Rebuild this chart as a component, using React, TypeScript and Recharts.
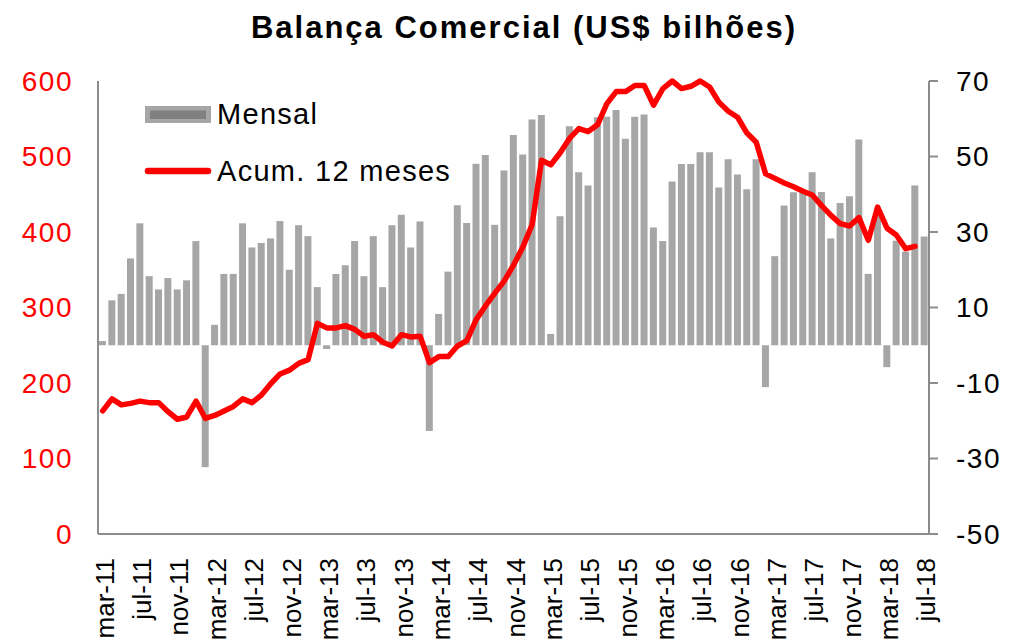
import React from 'react';
import { ComposedChart, Bar, Line, XAxis, YAxis, Legend } from 'recharts';

const months: string[] = [
  'mar-11','abr-11','mai-11','jun-11','jul-11','ago-11','set-11','out-11','nov-11','dez-11',
  'jan-12','fev-12','mar-12','abr-12','mai-12','jun-12','jul-12','ago-12','set-12','out-12','nov-12','dez-12',
  'jan-13','fev-13','mar-13','abr-13','mai-13','jun-13','jul-13','ago-13','set-13','out-13','nov-13','dez-13',
  'jan-14','fev-14','mar-14','abr-14','mai-14','jun-14','jul-14','ago-14','set-14','out-14','nov-14','dez-14',
  'jan-15','fev-15','mar-15','abr-15','mai-15','jun-15','jul-15','ago-15','set-15','out-15','nov-15','dez-15',
  'jan-16','fev-16','mar-16','abr-16','mai-16','jun-16','jul-16','ago-16','set-16','out-16','nov-16','dez-16',
  'jan-17','fev-17','mar-17','abr-17','mai-17','jun-17','jul-17','ago-17','set-17','out-17','nov-17','dez-17',
  'jan-18','fev-18','mar-18','abr-18','mai-18','jun-18','jul-18',
];

const mensal: number[] = [
  1.1, 11.9, 13.6, 23.0, 32.3, 18.3, 14.8, 17.8, 14.8, 17.2,
  27.6, -32.3, 5.4, 18.9, 18.9, 32.3, 25.9, 27.1, 28.3, 32.9, 20.0, 31.8,
  28.9, 15.4, -1.0, 18.9, 21.2, 27.6, 18.3, 28.9, 15.4, 31.8, 34.6, 25.9,
  32.8, -22.7, 8.3, 19.5, 37.1, 32.4, 48.1, 50.4, 31.9, 46.3, 55.7, 50.5,
  59.8, 61.0, 3.0, 34.2, 58.0, 45.8, 42.3, 60.4, 60.5, 62.3, 54.7, 60.5,
  61.1, 31.2, 27.6, 43.4, 48.0, 48.0, 51.1, 51.1, 41.8, 49.3, 45.2, 41.3,
  49.3, -11.1, 23.6, 37.0, 40.5, 40.4, 45.8, 40.6, 28.3, 37.7, 39.5, 54.5,
  18.9, 35.0, -5.8, 27.7, 24.8, 42.3, 28.8,
];

const acum12: (number | null)[] = [
  163, 179, 171, 173, 176, 174, 174, 162, 152, 155,
  176, 153, 157, 163, 169, 179, 174, 184, 199, 212, 217, 226,
  231, 279, 273, 273, 276, 271, 262, 264, 254, 249, 264, 261,
  262, 227, 235, 235, 249, 256, 284, 302, 319, 335, 356, 380,
  410, 495, 489, 505, 524, 537, 533, 542, 570, 586, 586, 594,
  594, 568, 590, 600, 590, 593, 600, 592, 572, 560, 552, 531,
  519, 477, 471, 465, 460, 454, 449, 435, 422, 411, 408, 419,
  389, 433, 405, 396, 378, 381, null,
];

const xTickLabels: string[] = [
  'mar-11','jul-11','nov-11','mar-12','jul-12','nov-12','mar-13','jul-13','nov-13',
  'mar-14','jul-14','nov-14','mar-15','jul-15','nov-15','mar-16','jul-16','nov-16',
  'mar-17','jul-17','nov-17','mar-18','jul-18',
];
const leftTicks: number[] = [0, 100, 200, 300, 400, 500, 600];
const rightTicks: number[] = [-50, -30, -10, 10, 30, 50, 70];

const data = months.map((m, i) => ({ month: m, mensal: mensal[i], acum: acum12[i] }));

const FONT = '"Liberation Sans", Arial, sans-serif';
const AXIS_GRAY = '#8c8c8c';

const XTick = (props: any) => {
  const { x, payload } = props;
  return (
    <text
      transform={`translate(${x + 2},558) rotate(-90)`}
      textAnchor="end"
      dy="0.35em"
      fontSize={26}
      fontFamily={FONT}
      fill="#000"
    >
      {payload.value}
    </text>
  );
};

const LeftTick = (props: any) => {
  const { y, payload } = props;
  return (
    <text x={73} y={y} dy="0.35em" textAnchor="end" fontSize={28} letterSpacing={1.5} fontFamily={FONT} fill="#ff0000">
      {payload.value}
    </text>
  );
};

const RightTick = (props: any) => {
  const { y, payload } = props;
  return (
    <text x={956} y={y} dy="0.35em" textAnchor="start" fontSize={28} letterSpacing={1.5} fontFamily={FONT} fill="#000">
      {payload.value}
    </text>
  );
};

const LegendContent = () => (
  <svg width={340} height={100} style={{ display: 'block', overflow: 'visible' }}>
    <rect x={5} y={11} width={66} height={17} fill="#a6a6a6" />
    <rect x={10} y={15.5} width={56} height={8.5} fill="#808080" />
    <text x={77} y={29} fontSize={29} letterSpacing={1.3} fontFamily={FONT} fill="#000">Mensal</text>
    <line x1={8} y1={76} x2={68} y2={76} stroke="#ff0000" strokeWidth={6.5} strokeLinecap="round" />
    <text x={77} y={86} fontSize={29} letterSpacing={1.3} fontFamily={FONT} fill="#000">Acum. 12 meses</text>
  </svg>
);

export default function App() {
  return (
    <div style={{ position: 'absolute', left: 0, top: 0, width: 1010, height: 643, background: '#fff' }}>
      <svg width={1010} height={60} style={{ position: 'absolute', left: 0, top: 0 }}>
        <text x={524} y={37.5} textAnchor="middle" fontSize={31} fontWeight="bold" letterSpacing={2} fontFamily={FONT} fill="#000">
          Balança Comercial (US$ bilhões)
        </text>
      </svg>
      <ComposedChart
        width={1010}
        height={643}
        data={data}
        margin={{ top: 81, right: 0, bottom: 0, left: 0 }}
        barCategoryGap={1}
        style={{ position: 'absolute', left: 0, top: 0 }}
      >
        <XAxis
          dataKey="month"
          height={109}
          ticks={xTickLabels}
          interval={0}
          tick={<XTick />}
          tickLine={false}
          axisLine={{ stroke: AXIS_GRAY, strokeWidth: 2 }}
        />
        <YAxis
          yAxisId="left"
          orientation="left"
          width={98}
          domain={[0, 600]}
          ticks={leftTicks}
          interval={0}
          tick={<LeftTick />}
          tickLine={false}
          axisLine={{ stroke: AXIS_GRAY, strokeWidth: 2 }}
        />
        <YAxis
          yAxisId="right"
          orientation="right"
          width={81}
          domain={[-50, 70]}
          ticks={rightTicks}
          interval={0}
          tick={<RightTick />}
          tickSize={9}
          tickLine={{ stroke: AXIS_GRAY, strokeWidth: 2 }}
          axisLine={{ stroke: AXIS_GRAY, strokeWidth: 2 }}
        />
        <Legend
          layout="vertical"
          align="center"
          verticalAlign="middle"
          content={<LegendContent />}
          wrapperStyle={{ position: 'absolute', left: 140, top: 95, width: 340, height: 100 }}
        />
        <Bar yAxisId="right" dataKey="mensal" fill="#a6a6a6" isAnimationActive={false} />
        <Line
          yAxisId="left"
          dataKey="acum"
          type="linear"
          stroke="#ff0000"
          strokeWidth={5.5}
          strokeLinejoin="round"
          strokeLinecap="round"
          dot={false}
          activeDot={false}
          isAnimationActive={false}
        />
      </ComposedChart>
    </div>
  );
}
